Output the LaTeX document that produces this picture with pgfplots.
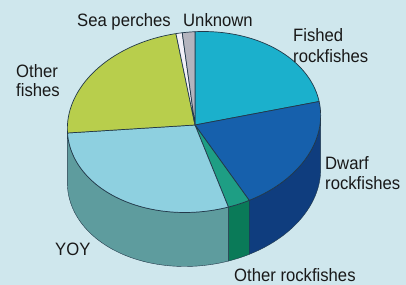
\documentclass[border=0pt]{standalone}
\usepackage{pgfplots}
\pgfplotsset{compat=1.18}
\usepgfplotslibrary{fillbetween}
\usepackage{fontspec}
\setmainfont{Liberation Sans}[FakeStretch=0.93]
\definecolor{bg}{HTML}{CFE7ED}
\definecolor{line}{HTML}{22394A}
\definecolor{fished}{HTML}{1BB0CC}
\definecolor{dwarf}{HTML}{1660AC}
\definecolor{dwarfside}{HTML}{0F3D7E}
\definecolor{otherr}{HTML}{1E9E84}
\definecolor{otherrside}{HTML}{0A7A58}
\definecolor{yoy}{HTML}{8ED0E0}
\definecolor{yoyside}{HTML}{5E9C9E}
\definecolor{otherf}{HTML}{B8CE4C}
\definecolor{seap}{HTML}{F2F0F8}
\definecolor{unknown}{HTML}{B4B4BE}
\begin{document}
\begin{tikzpicture}[
  declare function={ex(\t)=194+127*cos(\t)*cos(6)-90*sin(\t)*sin(6);
                    ey(\t)=163+127*cos(\t)*sin(6)+90*sin(\t)*cos(6);}]
% shares in percent
\def\vFished{22.4}
\def\vDwarf{20.3}
\def\vOtherR{2.8}
\def\vYOY{28.6}
\def\vOtherF{23.5}
\def\vSeaP{0.8}
\def\vUnknown{1.6}
\pgfmathsetmacro\aA{85.3}
\pgfmathsetmacro\aB{\aA-3.6*\vFished}
\pgfmathsetmacro\aC{\aB-3.6*\vDwarf}
\pgfmathsetmacro\aD{\aC-3.6*\vOtherR}
\pgfmathsetmacro\aE{\aD-3.6*\vYOY}
\pgfmathsetmacro\aF{\aE-3.6*\vOtherF}
\pgfmathsetmacro\aG{\aF-3.6*\vSeaP}
\pgfmathsetmacro\aH{\aG-3.6*\vUnknown}
\pgfmathsetmacro\tR{atan(-(90*sin(6))/(127*cos(6)))}
\pgfmathsetmacro\tL{\tR-180}
\begin{axis}[name=ax, scale only axis, width=406bp, height=285bp,
  xmin=0, xmax=406, ymin=0, ymax=285,
  axis line style={draw=none}, ticks=none,
  axis background/.style={fill=bg}, clip=false,
  samples=60, every axis plot/.append style={line width=0.7bp, line join=round}]
% sides
\addplot[name path=dT, draw=none, domain=\aC:\tR, variable=\t] ({ex(\t)},{ey(\t)});
\addplot[name path=dB, draw=none, domain=\aC:\tR, variable=\t] ({ex(\t)},{ey(\t)-54});
\addplot[fill=dwarfside, draw=line] fill between[of=dT and dB];
\addplot[name path=oT, draw=none, domain=\aD:\aC, variable=\t, samples=10] ({ex(\t)},{ey(\t)});
\addplot[name path=oB, draw=none, domain=\aD:\aC, variable=\t, samples=10] ({ex(\t)},{ey(\t)-54});
\addplot[fill=otherrside, draw=line] fill between[of=oT and oB];
\addplot[name path=yT, draw=none, domain=\tL:\aD, variable=\t] ({ex(\t)},{ey(\t)});
\addplot[name path=yB, draw=none, domain=\tL:\aD, variable=\t] ({ex(\t)},{ey(\t)-54});
\addplot[fill=yoyside, draw=line] fill between[of=yT and yB];
% top face
\addplot[fill=fished, draw=line, domain=\aB:\aA, variable=\t] ({ex(\t)},{ey(\t)}) -- (axis cs:195,160) -- cycle;
\addplot[fill=dwarf, draw=line, domain=\aC:\aB, variable=\t] ({ex(\t)},{ey(\t)}) -- (axis cs:195,160) -- cycle;
\addplot[fill=otherr, draw=line, domain=\aD:\aC, variable=\t, samples=10] ({ex(\t)},{ey(\t)}) -- (axis cs:195,160) -- cycle;
\addplot[fill=yoy, draw=line, domain=\aE:\aD, variable=\t] ({ex(\t)},{ey(\t)}) -- (axis cs:195,160) -- cycle;
\addplot[fill=otherf, draw=line, domain=\aF:\aE, variable=\t] ({ex(\t)},{ey(\t)}) -- (axis cs:195,160) -- cycle;
\addplot[fill=seap, draw=line, domain=\aG:\aF, variable=\t, samples=5] ({ex(\t)},{ey(\t)}) -- (axis cs:195,160) -- cycle;
\addplot[fill=unknown, draw=line, domain=\aH:\aG, variable=\t, samples=8] ({ex(\t)},{ey(\t)}) -- (axis cs:195,160) -- cycle;
% labels
\begin{scope}[every node/.style={anchor=base west, inner sep=0pt, text=black!90, font=\fontsize{18}{21}\selectfont}]
\node at (axis cs:77,258) {Sea perches};
\node at (axis cs:183,258) {Unknown};
\node at (axis cs:293,243) {Fished};
\node at (axis cs:293,222) {rockfishes};
\node at (axis cs:16,207) {Other};
\node at (axis cs:16,188) {fishes};
\node at (axis cs:325,115) {Dwarf};
\node at (axis cs:325,95) {rockfishes};
\node at (axis cs:55,30) {YOY};
\node at (axis cs:234,3.5) {Other rockfishes};
\end{scope}
\end{axis}
\pgfresetboundingbox
\useasboundingbox (ax.south west) rectangle (ax.north east);
\end{tikzpicture}
\end{document}
